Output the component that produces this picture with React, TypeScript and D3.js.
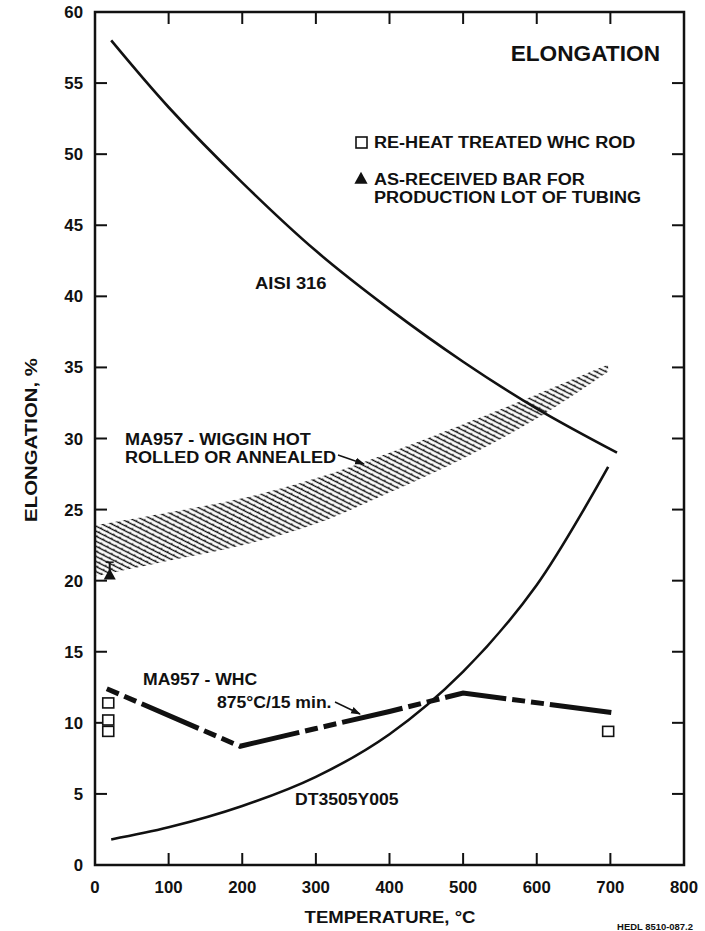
import React from "react";
import * as d3 from "d3";

// ---- data ----
const xTicks = [0, 100, 200, 300, 400, 500, 600, 700, 800];
const yTicks = [0, 5, 10, 15, 20, 25, 30, 35, 40, 45, 50, 55, 60];

const aisiT = [22, 100, 200, 300, 400, 500, 600, 709];
const aisiE = [58, 53.3, 48.0, 43.2, 39.1, 35.4, 32.1, 29.0];

const dtT = [22, 100, 200, 300, 400, 500, 600, 697];
const dtE = [1.8, 2.65, 4.15, 6.2, 9.2, 13.6, 19.7, 28.0];

const whcT = [16, 197, 300, 400, 500, 705];
const whcE = [12.4, 8.35, 9.6, 10.8, 12.1, 10.7];

const bandT = [0, 100, 200, 300, 400, 500, 600, 697];
const bandLow = [20.3, 21.4, 22.5, 24.0, 26.2, 28.6, 31.4, 34.7];
const bandHigh = [23.9, 24.8, 25.8, 27.2, 29.0, 31.0, 33.1, 35.2];

const rodT = [18, 18, 18, 697];
const rodE = [11.4, 10.2, 9.4, 9.4];

const barT = [20];
const barE = [20.4];
const barErrTop = [21.3];

const W = 705;
const H = 931;
const FONT = "'Liberation Sans', Arial, Helvetica, sans-serif";

export default function App() {
  const x = d3.scaleLinear().domain([0, 800]).range([95, 684]);
  const y = d3.scaleLinear().domain([0, 60]).range([865, 12]);

  const smooth = d3
    .line<[number, number]>()
    .x((d) => x(d[0]))
    .y((d) => y(d[1]))
    .curve(d3.curveCatmullRom.alpha(0.5));
  const straight = d3
    .line<[number, number]>()
    .x((d) => x(d[0]))
    .y((d) => y(d[1]));
  const area = d3
    .area<number>()
    .x((_, i) => x(bandT[i]))
    .y0((_, i) => y(bandLow[i]))
    .y1((_, i) => y(bandHigh[i]))
    .curve(d3.curveCatmullRom.alpha(0.5));

  const aisi = aisiT.map((t, i) => [t, aisiE[i]] as [number, number]);
  const dt = dtT.map((t, i) => [t, dtE[i]] as [number, number]);
  const whc = whcT.map((t, i) => [t, whcE[i]] as [number, number]);

  const tri = (cx: number, cy: number, s: number) =>
    `M${cx},${cy - s * 0.6}L${cx + s * 0.55},${cy + s * 0.4}L${cx - s * 0.55},${cy + s * 0.4}Z`;

  const label = (
    tx: number,
    ty: number,
    text: string,
    size = 16,
    anchor: "start" | "middle" | "end" = "start",
    sx = 1.13
  ) => (
    <text
      key={text + tx + ty}
      transform={`translate(${tx},${ty}) scale(${sx},1)`}
      fontFamily={FONT}
      fontWeight="bold"
      fontSize={size}
      textAnchor={anchor}
      fill="#111"
    >
      {text}
    </text>
  );

  const tickLen = 12;
  const x0 = x(0), x1 = x(800), y0 = y(0), y1 = y(60);

  return (
    <svg
      width={W}
      height={H}
      style={{ position: "absolute", left: 0, top: 0, background: "#fff" }}
    >
      <defs>
        <pattern
          id="hatch"
          width="7"
          height="4.5"
          patternUnits="userSpaceOnUse"
          patternTransform="rotate(27)"
        >
          <line x1="0" y1="2.2" x2="7" y2="2.2" stroke="#111" strokeWidth="1.4" />
          <line x1="1" y1="0.7" x2="1" y2="2.6" stroke="#111" strokeWidth="1.1" />
        </pattern>
        <marker
          id="arrow"
          viewBox="0 0 10 10"
          refX="9"
          refY="5"
          markerWidth="7"
          markerHeight="7"
          orient="auto"
        >
          <path d="M0,1.5L10,5L0,8.5Z" fill="#111" />
        </marker>
      </defs>

      {/* frame */}
      <rect
        x={x0}
        y={y1}
        width={x1 - x0}
        height={y0 - y1}
        fill="none"
        stroke="#111"
        strokeWidth={2.5}
      />
      {/* ticks */}
      {xTicks.slice(1, -1).map((t) => (
        <g key={"xt" + t} stroke="#111" strokeWidth={2}>
          <line x1={x(t)} x2={x(t)} y1={y0} y2={y0 - tickLen} />
          <line x1={x(t)} x2={x(t)} y1={y1} y2={y1 + tickLen} />
        </g>
      ))}
      {yTicks.slice(1, -1).map((t) => (
        <g key={"yt" + t} stroke="#111" strokeWidth={2}>
          <line x1={x0} x2={x0 + tickLen} y1={y(t)} y2={y(t)} />
          <line x1={x1} x2={x1 - tickLen} y1={y(t)} y2={y(t)} />
        </g>
      ))}
      {/* tick labels */}
      {xTicks.map((t) => label(x(t), 893, String(t), 16, "middle", 1.05))}
      {yTicks.map((t) => label(83, y(t) + 6, String(t), 16, "end", 1.05))}

      {/* band */}
      <path d={area(bandT) || ""} fill="url(#hatch)" stroke="none" />

      {/* curves */}
      <path d={smooth(aisi) || ""} fill="none" stroke="#111" strokeWidth={2.6} />
      <path d={smooth(dt) || ""} fill="none" stroke="#111" strokeWidth={2.6} />
      <path
        d={straight(whc) || ""}
        fill="none"
        stroke="#111"
        strokeWidth={5}
        strokeDasharray="62 6 13 6 13 6"
        strokeDashoffset={68}
      />

      {/* rod squares */}
      {rodT.map((t, i) => (
        <rect
          key={"sq" + i}
          x={x(t) - 5.5}
          y={y(rodE[i]) - 5}
          width={11}
          height={10}
          fill="#fff"
          stroke="#111"
          strokeWidth={1.6}
        />
      ))}
      {/* as-received bar */}
      {barT.map((t, i) => (
        <g key={"bar" + i}>
          <line
            x1={x(t)}
            x2={x(t)}
            y1={y(barE[i])}
            y2={y(barErrTop[i])}
            stroke="#111"
            strokeWidth={2}
          />
          <line
            x1={x(t) - 4}
            x2={x(t) + 4}
            y1={y(barErrTop[i])}
            y2={y(barErrTop[i])}
            stroke="#111"
            strokeWidth={1.5}
          />
          <path d={tri(x(t), y(barE[i]), 11)} fill="#111" />
        </g>
      ))}

      {/* annotations */}
      {label(660, 61, "ELONGATION", 22, "end", 1.03)}
      <rect x={356} y={137} width={11} height={11} fill="#fff" stroke="#111" strokeWidth={1.6} />
      {label(374, 148, "RE-HEAT TREATED WHC ROD", 16)}
      <path d={tri(361, 179, 12)} fill="#111" />
      {label(374, 185, "AS-RECEIVED BAR FOR", 16)}
      {label(374, 203, "PRODUCTION LOT OF TUBING", 16)}

      {label(255, 289, "AISI 316", 16, "start", 1.15)}
      {label(125, 445, "MA957 - WIGGIN HOT", 16)}
      {label(125, 463, "ROLLED OR ANNEALED", 16)}
      <line x1={338} y1={455} x2={364} y2={464} stroke="#111" strokeWidth={1.4} markerEnd="url(#arrow)" />

      {label(143, 685, "MA957 - WHC", 16, "start", 1.1)}
      {label(217, 708, "875\u00B0C/15 min.", 16, "start", 1.1)}
      <line x1={335} y1={702} x2={360} y2={714} stroke="#111" strokeWidth={1.4} markerEnd="url(#arrow)" />

      {label(295, 805, "DT3505Y005", 16, "start", 1.1)}

      {/* axis titles */}
      {label(390, 923, "TEMPERATURE, \u00B0C", 16, "middle", 1.16)}
      <text
        transform={`translate(37,440) rotate(-90) scale(1.2,1)`}
        fontFamily={FONT}
        fontWeight="bold"
        fontSize={17}
        textAnchor="middle"
        fill="#111"
      >
        ELONGATION, %
      </text>
      {label(693, 930, "HEDL 8510-087.2", 9, "end", 1.05)}
    </svg>
  );
}
